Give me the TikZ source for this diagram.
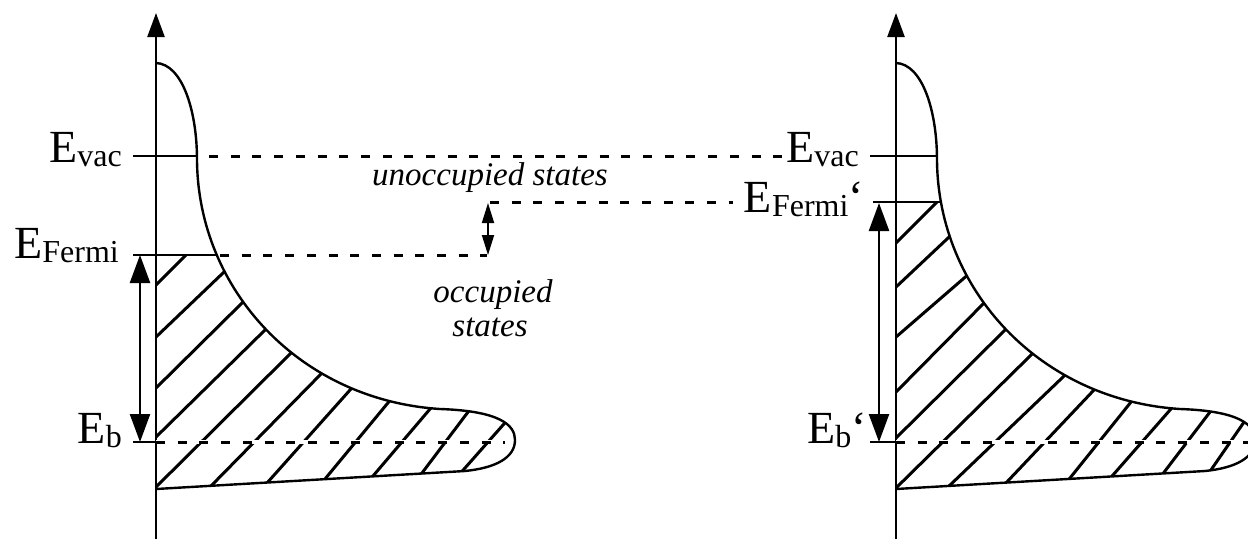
\documentclass[tikz,border=0pt]{standalone}
\usepackage{fontspec}
\setmainfont{Liberation Serif}
\usetikzlibrary{arrows.meta}
\newcommand{\lblsub}[1]{\raisebox{-4pt}{\fontsize{32}{32}\selectfont #1}}
\def\dosshape{(156,63) .. controls (182,64) and (197,110) .. (197,160)
  .. controls (198,290) and (300,400) .. (440,409)
  .. controls (500,411) and (515,425) .. (515,440)
  .. controls (515,458) and (495,468) .. (465,471) -- (156,489)}
\tikzset{
  lbl/.style={anchor=base east, inner sep=0pt, font=\fontsize{46}{46}\selectfont},
  itl/.style={anchor=base, inner sep=0pt, font=\fontsize{33}{34}\selectfont\itshape},
  solidline/.style={line width=2.4pt},
  outline/.style={line width=2.4pt},
  dashline/.style={line width=3pt, dash pattern=on 9pt off 12.7pt},
  whiteunder/.style={line width=3.4pt, white},
  axisarrow/.style={line width=2.4pt, -{Triangle[length=24pt,width=17pt]}},
  bigdarrow/.style={line width=2.4pt, {Triangle[length=28pt,width=20pt]}-{Triangle[length=28pt,width=20pt]}},
  smalldarrow/.style={line width=1.8pt, {Triangle[length=20pt,width=12pt]}-{Triangle[length=20pt,width=12pt]}},
  hatch/.style={line width=3pt, shorten <=-12pt, shorten >=-12pt},
}
\begin{document}
\begin{tikzpicture}[x=1pt,y=-1pt]
\clip (0,0) rectangle (1248,539);
\fill[white] (0,0) rectangle (1248,539);

% ---------- coordinates ----------
\coordinate (LaxB) at (156,539);
\coordinate (LaxT) at (156,13);
\coordinate (RaxB) at (896,539);
\coordinate (RaxT) at (896,13);

\coordinate (LvacA) at (133,156);
\coordinate (LvacB) at (198,156);
\coordinate (LfA) at (133,255);
\coordinate (LfB) at (217,255);
\coordinate (LbA) at (133,442);
\coordinate (LbB) at (156,442);
\coordinate (LarT) at (140,255);
\coordinate (LarB) at (140,442);

\coordinate (RvacA) at (870,156);
\coordinate (RvacB) at (938,156);
\coordinate (RfA) at (873,202);
\coordinate (RfB) at (941,202);
\coordinate (RbA) at (870,442);
\coordinate (RbB) at (896,442);
\coordinate (RarT) at (879,203);
\coordinate (RarB) at (879,442);

\coordinate (DvacA) at (209,156);
\coordinate (DvacB) at (784,156);
\coordinate (DfA) at (220,255);
\coordinate (DfB) at (487,255);
\coordinate (SarB) at (488,255);
\coordinate (SarT) at (488,203);
\coordinate (DfpA) at (490,202);
\coordinate (DfpB) at (733,202);
\coordinate (DbA) at (156,442);
\coordinate (DbB) at (505,442);
\coordinate (DbpA) at (896,442);
\coordinate (DbpB) at (1260,442);

% ---------- left hatching ----------
\begin{scope}
  \clip (0,255) rectangle (1248,539);
  \clip \dosshape -- cycle;
  \draw[hatch] (156,285) -- (188,253);
  \draw[hatch] (156,337) -- (223,273);
  \draw[hatch] (156,388) -- (242,303);
  \draw[hatch] (156,437) -- (265,330);
  \draw[hatch] (156,487) -- (287,357);
  \draw[hatch] (210,487) -- (320,375);
  \draw[hatch] (267,483) -- (350,390);
  \draw[hatch] (325,479) -- (387,404);
  \draw[hatch] (373,476) -- (430,409);
  \draw[hatch] (422,473) -- (468,412);
  \draw[hatch] (465,468) -- (503,425);
\end{scope}

% ---------- right hatching ----------
\begin{scope}
  \clip (0,202) rectangle (1248,539);
  \clip[shift={(740,0)}] \dosshape -- cycle;
  \draw[hatch] (896,243) -- (937,202);
  \draw[hatch] (896,287) -- (947,239);
  \draw[hatch] (896,337) -- (963,279);
  \draw[hatch] (896,392) -- (984,303);
  \draw[hatch] (896,438) -- (1005,330);
  \draw[hatch] (896,488) -- (1029,357);
  \draw[hatch] (948,487) -- (1062,378);
  \draw[hatch] (1005,484) -- (1093,391);
  \draw[hatch] (1070,478) -- (1131,402);
  \draw[hatch] (1113,475) -- (1170,410);
  \draw[hatch] (1165,471) -- (1210,412);
  \draw[hatch] (1213,467) -- (1242,425);
\end{scope}

% ---------- density curves ----------
\draw[outline] \dosshape;
\draw[outline, shift={(740,0)}] \dosshape;

% ---------- axes ----------
\draw[axisarrow] (LaxB) -- (LaxT);
\draw[axisarrow] (RaxB) -- (RaxT);

% ---------- ticks ----------
\draw[solidline] (LvacA) -- (LvacB);
\draw[solidline] (LfA) -- (LfB);
\draw[solidline] (LbA) -- (LbB);
\draw[solidline] (RvacA) -- (RvacB);
\draw[solidline] (RfA) -- (RfB);
\draw[solidline] (RbA) -- (RbB);

% ---------- dashed levels ----------
\draw[whiteunder] (DbA) -- (DbB);
\draw[dashline] (DbA) -- (DbB);
\draw[whiteunder] (DbpA) -- (DbpB);
\draw[dashline] (DbpA) -- (DbpB);
\draw[dashline] (DvacA) -- (DvacB);
\draw[dashline] (DfA) -- (DfB);
\draw[dashline] (DfpA) -- (DfpB);

% ---------- arrows ----------
\draw[bigdarrow] (LarT) -- (LarB);
\draw[bigdarrow] (RarT) -- (RarB);
\draw[smalldarrow] (SarB) -- (SarT);

% ---------- labels ----------
\node[lbl] (tLvac) at (122,162) {E\lblsub{vac}};
\node[lbl] (tLf) at (119,258) {E\lblsub{Fermi}};
\node[lbl] (tLb) at (122,443) {E\lblsub{b}};
\node[lbl] (tRvac) at (859,162) {E\lblsub{vac}};
\node[lbl] (tRf) at (864,212) {E\lblsub{Fermi}‘};
\node[lbl] (tRb) at (867,443) {E\lblsub{b}‘};
\node[itl] (tun) at (490,185) {unoccupied states};
\node[itl] (toc) at (493,302) {occupied};
\node[itl] (tst) at (490,336) {states};
\end{tikzpicture}
\end{document}
